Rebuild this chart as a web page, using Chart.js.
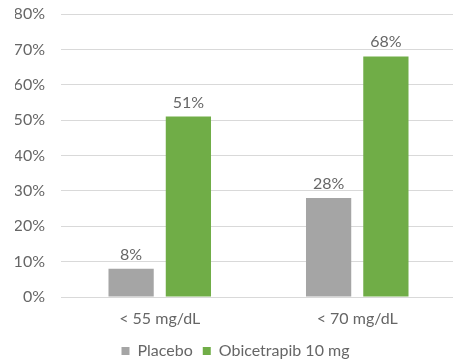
<!DOCTYPE html>
<html>
<head>
<meta charset="utf-8">
<script src="https://cdn.jsdelivr.net/npm/chart.js@4/dist/chart.umd.min.js"></script>
<style>
  html, body { margin: 0; padding: 0; background: #fff; overflow: hidden; }
  #wrap { width: 456px; height: 369px; }
</style>
</head>
<body>
<div id="wrap"><canvas id="ldl-chart"></canvas></div>
<script>
const categories = ["< 55 mg/dL", "< 70 mg/dL"];
const placebo = [8, 28];
const obicetrapib = [51, 68];
const seriesNames = ["Placebo", "Obicetrapib 10 mg"];

const textColor = "#666666";

// value labels above each bar
const barLabels = {
  id: "barLabels",
  afterDatasetsDraw(chart) {
    const ctx = chart.ctx;
    ctx.save();
    ctx.font = "16px Lato";
    ctx.fillStyle = textColor;
    ctx.textAlign = "center";
    ctx.textBaseline = "alphabetic";
    chart.data.datasets.forEach((ds, i) => {
      chart.getDatasetMeta(i).data.forEach((bar, j) => {
        ctx.fillText(ds.data[j] + "%", bar.x, bar.y - 9);
      });
    });
    ctx.restore();
  },
};

new Chart(document.getElementById("ldl-chart"), {
  type: "bar",
  data: {
    labels: categories,
    datasets: [
      {
        label: seriesNames[0],
        data: placebo,
        backgroundColor: "#A5A5A5",
        categoryPercentage: 0.58,
        barPercentage: 0.79,
      },
      {
        label: seriesNames[1],
        data: obicetrapib,
        backgroundColor: "#70AD47",
        categoryPercentage: 0.58,
        barPercentage: 0.79,
      },
    ],
  },
  options: {
    responsive: true,
    maintainAspectRatio: false,
    animation: false,
    layout: { padding: { top: 14, right: 0, left: 15, bottom: 0 } },
    scales: {
      y: {
        min: 0,
        max: 80,
        afterFit: (scale) => {
          scale.width = 46;
          scale.paddingTop = 0;
          scale.paddingBottom = 0;
        },
        ticks: {
          stepSize: 10,
          callback: (v) => v + "%",
          color: textColor,
          font: { family: "Lato", size: 16 },
          padding: 16,
        },
        grid: { color: "#D9D9D9", drawTicks: false },
        border: { display: false },
      },
      x: {
        afterFit: (scale) => {
          scale.height = 36;
        },
        ticks: {
          color: textColor,
          font: { family: "Lato", size: 16 },
          padding: 12,
        },
        grid: { display: false, drawTicks: false },
        border: { display: false },
      },
    },
    plugins: {
      legend: {
        position: "bottom",
        labels: {
          boxWidth: 8,
          boxHeight: 8,
          padding: 10,
          color: textColor,
          font: { family: "Lato", size: 16 },
        },
      },
      tooltip: { enabled: false },
    },
  },
  plugins: [barLabels],
});
</script>
</body>
</html>
